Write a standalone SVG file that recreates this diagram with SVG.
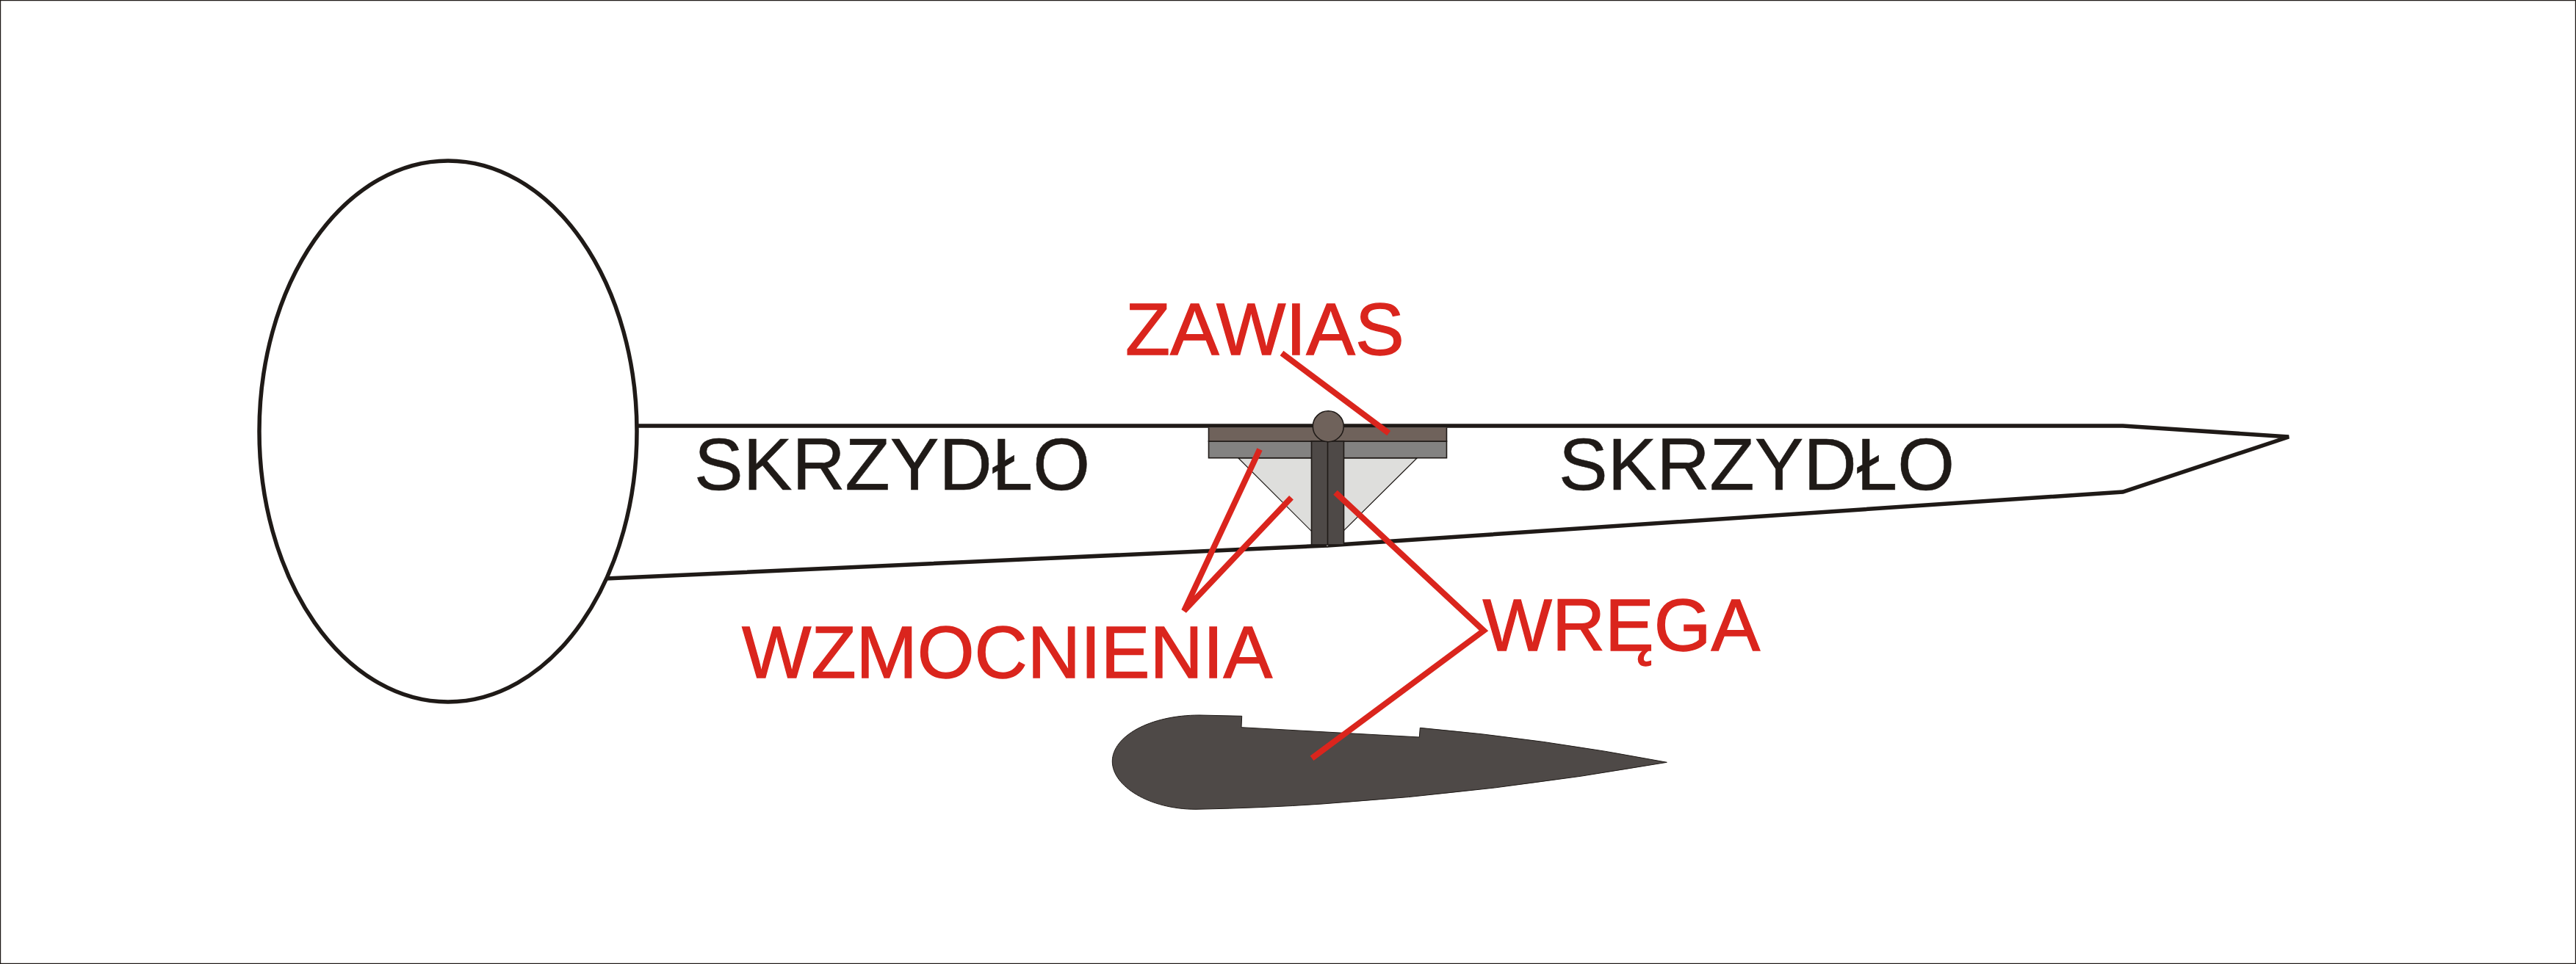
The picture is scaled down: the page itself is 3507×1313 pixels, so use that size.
<svg xmlns="http://www.w3.org/2000/svg" width="3507" height="1313" viewBox="0 0 3507 1313">
<style>
.o{fill:none;stroke:#1f1a17;stroke-width:5.5;stroke-linejoin:miter}
.t{font-family:"Liberation Sans",Arial,sans-serif;font-size:100px}
.k{fill:#1f1a17;stroke:#1f1a17;stroke-width:.6}
.r{fill:#da251d;stroke:#da251d;stroke-width:1.3}
.p{stroke:#1f1a17;stroke-width:1.6}
.c{fill:none;stroke:#da251d;stroke-width:8}
</style>
<rect x="0.5" y="0.5" width="3506" height="1312" fill="#fff" stroke="#1f1a17" stroke-width="1.4"/>
<g id="fuselage"><ellipse cx="610" cy="587.5" rx="257" ry="368.5" class="o" fill="#fff"/></g>
<g id="wing"><path class="o" d="M867 580H2890L3116 595L2890 670L1807 743L825 788"/></g>
<g id="reinforcement"><path d="M1686 624H1929L1807 745Z" fill="#dededc" stroke="#1f1a17" stroke-width="1.2"/></g>
<g id="hinge-plate">
<rect x="1645.5" y="601" width="324" height="22.7" fill="#838281" class="p"/>
<rect x="1645.5" y="582.5" width="324" height="18.5" fill="#6f625b" stroke="none"/>
<path d="M1645.5 582.5V601H1969.5V582.5" fill="none" class="p"/>
</g>
<g id="frame">
<rect x="1785.5" y="601" width="44" height="141" fill="#4e4947" class="p"/>
<path d="M1807.5 601V742" class="p" fill="none"/>
</g>
<g id="hinge-pin"><circle cx="1808.3" cy="580.7" r="21" fill="#6f625b" class="p"/></g>
<g id="rib"><path d="M1633 974L1690.7 975.3L1690 990.7L1932.3 1004L1933.3 991.3Q2101 1006 2269.3 1038.3Q2035 1079.4 1800 1095Q1720 1100.5 1628 1102.3C1565 1102.3 1514.3 1071 1514.3 1037C1514.3 1003 1565 974 1633 974Z" fill="#4e4947" stroke="#1f1a17" stroke-width="1"/></g>
<g id="connectors">
<path class="c" d="M1745 481L1890.7 590"/>
<path class="c" d="M1715 612L1612 832L1758 677.7"/>
<path class="c" d="M1818 670.7L2020 859L1786 1032.7"/>
</g>
<g id="label-skrzydlo-1"><text class="t k" x="945" y="666.5">SKRZYDŁO</text></g>
<g id="label-skrzydlo-2"><text class="t k" x="2122" y="666.5">SKRZYDŁO</text></g>
<g id="label-zawias"><text class="t r" x="1532" y="482.5">ZAWIAS</text></g>
<g id="label-wzmocnienia"><text class="t r" x="1010" y="922.5">WZMOCNIENIA</text></g>
<g id="label-wrega"><text class="t r" x="2018.5" y="885.5">WRĘGA</text></g>
</svg>
